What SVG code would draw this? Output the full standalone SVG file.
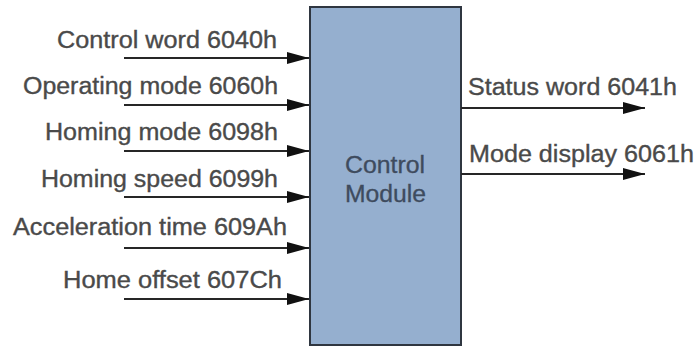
<svg xmlns="http://www.w3.org/2000/svg" width="696" height="347" viewBox="0 0 696 347">
  <style>
    .lbl { font-family: "Liberation Sans", Arial, Helvetica, sans-serif; font-size: 23px; fill: #4a4a4a; stroke: #4a4a4a; stroke-width: 0.35; }
    .mod { font-family: "Liberation Sans", Arial, Helvetica, sans-serif; font-size: 23px; fill: #3e4b5e; stroke: #3e4b5e; stroke-width: 0.3; }
    .wire { stroke: #262626; stroke-width: 2; fill: none; marker-end: url(#head); }
  </style>
  <defs>
    <marker id="head" markerUnits="userSpaceOnUse" markerWidth="23" markerHeight="14" refX="22" refY="7" orient="auto">
      <path d="M0,1 L22,7 L0,13 Z" fill="#111"/>
    </marker>
  </defs>
  <rect width="696" height="347" fill="#ffffff"/>

  <!-- control block -->
  <g id="control-module">
    <rect x="310" y="7" width="151" height="338" fill="#95afcf" stroke="#2f3640" stroke-width="2"/>
    <text class="mod" x="345" y="173" textLength="80" lengthAdjust="spacingAndGlyphs">Control</text>
    <text class="mod" x="345" y="202" textLength="81" lengthAdjust="spacingAndGlyphs">Module</text>
  </g>

  <!-- signal labels -->
  <g id="in-control-word"><text class="lbl" x="57" y="48" textLength="220" lengthAdjust="spacingAndGlyphs">Control word 6040h</text></g>
  <g id="in-operating-mode"><text class="lbl" x="23" y="94" textLength="255" lengthAdjust="spacingAndGlyphs">Operating mode 6060h</text></g>
  <g id="in-homing-mode"><text class="lbl" x="45" y="140" textLength="233" lengthAdjust="spacingAndGlyphs">Homing mode 6098h</text></g>
  <g id="in-homing-speed"><text class="lbl" x="41" y="187" textLength="237" lengthAdjust="spacingAndGlyphs">Homing speed 6099h</text></g>
  <g id="in-acceleration-time"><text class="lbl" x="13" y="235" textLength="274" lengthAdjust="spacingAndGlyphs">Acceleration time 609Ah</text></g>
  <g id="in-home-offset"><text class="lbl" x="63" y="288" textLength="219" lengthAdjust="spacingAndGlyphs">Home offset 607Ch</text></g>
  <g id="out-status-word"><text class="lbl" x="468" y="95" textLength="209" lengthAdjust="spacingAndGlyphs">Status word 6041h</text></g>
  <g id="out-mode-display"><text class="lbl" x="469" y="162" textLength="225" lengthAdjust="spacingAndGlyphs">Mode display 6061h</text></g>

  <!-- connectors -->
  <g id="connectors">
    <line class="wire" x1="124" y1="58" x2="309" y2="58"/>
    <line class="wire" x1="124" y1="105" x2="309" y2="105"/>
    <line class="wire" x1="124" y1="151" x2="309" y2="151"/>
    <line class="wire" x1="124" y1="197" x2="309" y2="197"/>
    <line class="wire" x1="124" y1="248" x2="309" y2="248"/>
    <line class="wire" x1="124" y1="299" x2="309" y2="299"/>
    <line class="wire" x1="461" y1="108" x2="645" y2="108"/>
    <line class="wire" x1="461" y1="174" x2="645" y2="174"/>
  </g>
</svg>
